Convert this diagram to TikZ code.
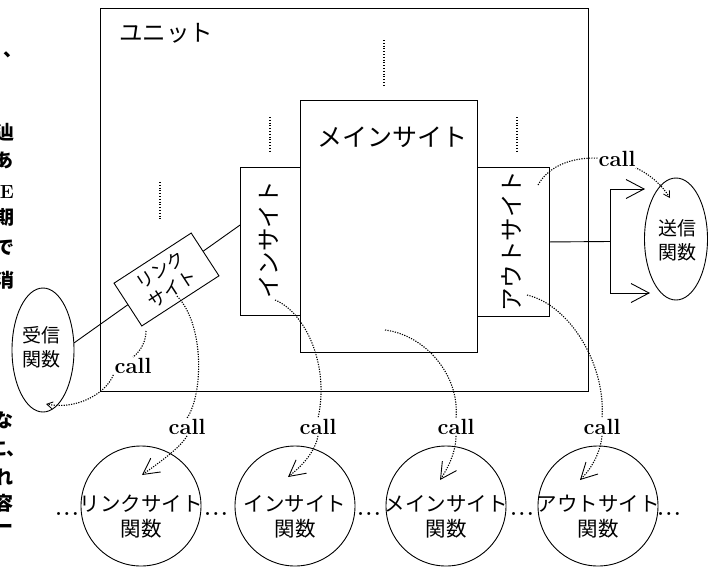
\documentclass[tikz,border=0pt]{standalone}
\usepackage{fontspec}
\newfontfamily\jp{Noto Sans CJK JP}
\usetikzlibrary{arrows.meta,calc,shapes.geometric}
\begin{document}
\begin{tikzpicture}[x=1pt,y=1pt,
  box/.style={draw,line width=0.9pt,fill=white,inner sep=0pt,anchor=north west},
  vdotline/.style={line width=1.2pt,dash pattern=on 1pt off 1.8pt},
  callcurve/.style={line width=1.1pt,dash pattern=on 1.2pt off 1.3pt},
  calllbl/.style={font=\bfseries\fontsize{22}{22}\selectfont,inner sep=1pt,fill=white},
  bigtip/.style={-{Straight Barb[length=16pt,width=17pt,line width=0.9pt]}},
  smalltip/.style={-{Straight Barb[length=6pt,width=7pt,line width=0.8pt]}},
  forktip/.style={-{Straight Barb[length=18pt,width=19pt,line width=0.9pt]}},
  jbig/.style={font=\jp\fontsize{23.5}{23.5}\selectfont,inner sep=0pt},
  jmid/.style={font=\jp\fontsize{20.5}{25}\selectfont,align=center,inner sep=0pt},
  jsm/.style={font=\jp\fontsize{19}{24}\selectfont,align=center,inner sep=0pt},
  frag/.style={font=\jp\bfseries\fontsize{19}{19}\selectfont,inner sep=0pt,anchor=east},
  funcc/.style={draw,circle,line width=0.9pt,minimum size=120pt,inner sep=0pt},
  ell/.style={draw,ellipse,line width=0.9pt,inner sep=0pt},
  dotsl/.style={font=\bfseries\fontsize{21}{21}\selectfont,inner sep=0pt,anchor=base}
]
\useasboundingbox (0,0) rectangle (710,-568);

% unit box and inner sites
\node[box,fill=none,line width=1.2pt,minimum width=488pt,minimum height=383pt] (unit) at (100,-8) {};
\node[jbig] (unitlbl) at (166,-33) {ユニット};
\node[box,minimum width=177pt,minimum height=252pt] (main) at (300,-100) {};
\node[box,minimum width=60pt,minimum height=148pt] (insite) at (240,-167) {};
\node[box,minimum width=72pt,minimum height=149pt] (outsite) at (477,-167) {};
\node[font=\jp\fontsize{25}{25}\selectfont,inner sep=0pt] (mainlbl) at (392,-137) {メインサイト};
\node[jbig,rotate=90] (inlbl) at (269,-240) {インサイト};
\node[jbig,rotate=90] (outlbl) at (512,-241) {アウトサイト};

% vertical dotted marks
\draw[vdotline] (384,-40) -- (384,-86);
\draw[vdotline] (270,-117) -- (270,-153);
\draw[vdotline] (517,-117) -- (517,-153);
\draw[vdotline] (160,-182) -- (160,-220);

% receive / send functions
\node[ell,minimum width=62pt,minimum height=124pt] (recv) at (43,-350) {};
\node[jsm] (recvlbl) at (41,-347) {受信\\関数};
\node[ell,minimum width=63pt,minimum height=122pt] (send) at (676,-239) {};
\node[jsm] (sendlbl) at (677,-240) {送信\\関数};

% link line and link site
\draw[line width=0.9pt] (recv.13) -- ($(insite.north west)!0.39!(insite.south west)$);
\node[draw,line width=0.9pt,fill=white,rotate=33,minimum width=92pt,minimum height=51pt,inner sep=0pt,
      font=\jp\fontsize{18}{22}\selectfont,align=center] (link) at (166.5,-279.5) {リンク\\サイト};

% outsite to send fork
\coordinate (fork) at (610,-241.5);
\coordinate (fu) at (610,-189);
\coordinate (fd) at (610,-293);
\coordinate (tu) at (645,-189);
\coordinate (td) at (650,-293);
\draw[line width=0.9pt] (outsite.east) -- (fork);
\draw[line width=0.9pt] (fu) -- (fd);
\draw[line width=0.9pt,forktip] (fu) -- (tu);
\draw[line width=0.9pt,forktip] (fd) -- (td);

% bottom function circles
\node[funcc] (linkf) at (141,-506) {};
\node[funcc] (inf) at (295,-506) {};
\node[funcc] (mainf) at (446,-506) {};
\node[funcc] (outf) at (598,-506) {};
\node[jmid] (linkflbl) at (141,-517) {リンクサイト\\関数};
\node[jmid] (inflbl) at (295,-517) {インサイト\\関数};
\node[jmid] (mainflbl) at (446,-517) {メインサイト\\関数};
\node[jmid] (outflbl) at (598,-517) {アウトサイト\\関数};
\node[dotsl] (d1) at (67,-515) {.\kern1.8pt.\kern1.8pt.};
\node[dotsl] (d2) at (216,-515) {.\kern1.8pt.\kern1.8pt.};
\node[dotsl] (d3) at (369,-515) {.\kern1.8pt.\kern1.8pt.};
\node[dotsl] (d4) at (522,-515) {.\kern1.8pt.\kern1.8pt.};
\node[dotsl] (d5) at (669,-515) {.\kern1.8pt.\kern1.8pt.};

% call curves
\coordinate (sRecv) at (146,-331);
\coordinate (tRecv) at (46,-404);
\node[calllbl] (cRecv) at (133,-366) {call};
\draw[callcurve] (sRecv) .. controls (146,-340) and (142,-350) .. (cRecv.north);
\draw[callcurve,smalltip] (cRecv.south west) .. controls (105,-395) and (75,-410) .. (tRecv);

\coordinate (sSend) at (538,-185);
\coordinate (tSend) at (670,-198);
\draw[callcurve,smalltip] (sSend) .. controls (560,-145) and (640,-150) .. (tSend);
\node[calllbl] (cSend) at (617,-159) {call};

\coordinate (sLink) at (177,-296);
\coordinate (tLink) at (142,-475);
\node[calllbl] (cLink) at (187,-427) {call};
\draw[callcurve] (sLink) .. controls (205,-325) and (203,-395) .. (cLink.north);
\draw[callcurve,bigtip] (cLink.south) .. controls (180,-448) and (160,-462) .. (tLink);

\coordinate (sIn) at (275,-300);
\coordinate (tIn) at (288,-477);
\node[calllbl] (cIn) at (318,-427) {call};
\draw[callcurve] (sIn) .. controls (305,-312) and (330,-365) .. (cIn.north);
\draw[callcurve,bigtip] (cIn.south) .. controls (315,-452) and (302,-466) .. (tIn);

\coordinate (sMain) at (385,-330);
\coordinate (tMain) at (440,-480);
\node[calllbl] (cMain) at (456,-427) {call};
\draw[callcurve] (sMain) .. controls (425,-335) and (460,-375) .. (cMain.north);
\draw[callcurve,bigtip] (cMain.south) .. controls (456,-452) and (448,-468) .. (tMain);

\coordinate (sOut) at (527,-295);
\coordinate (tOut) at (580,-480);
\node[calllbl] (cOut) at (602,-427) {call};
\draw[callcurve] (sOut) .. controls (570,-305) and (606,-365) .. (cOut.north);
\draw[callcurve,bigtip] (cOut.south) .. controls (600,-455) and (590,-470) .. (tOut);

% cropped text fragments at the left edge
\node[frag,anchor=base west] (f0) at (3,-56) {、};
\node[frag] (f1) at (15,-132) {辿};
\node[frag] (f2) at (14,-160) {あ};
\node[frag,font=\bfseries\fontsize{19}{19}\selectfont] (f3) at (14,-192) {TE};
\node[frag] (f4) at (15,-217) {期};
\node[frag] (f5) at (15,-248) {で};
\node[frag] (f6) at (15,-280) {消};
\node[frag] (f7) at (14,-420) {な};
\node[frag] (f8) at (26,-449) {に、};
\node[frag] (f9) at (14,-477) {れ};
\node[frag] (f10) at (14,-503) {容};
\node[frag] (f11) at (14,-529) {ー};
\end{tikzpicture}
\end{document}
